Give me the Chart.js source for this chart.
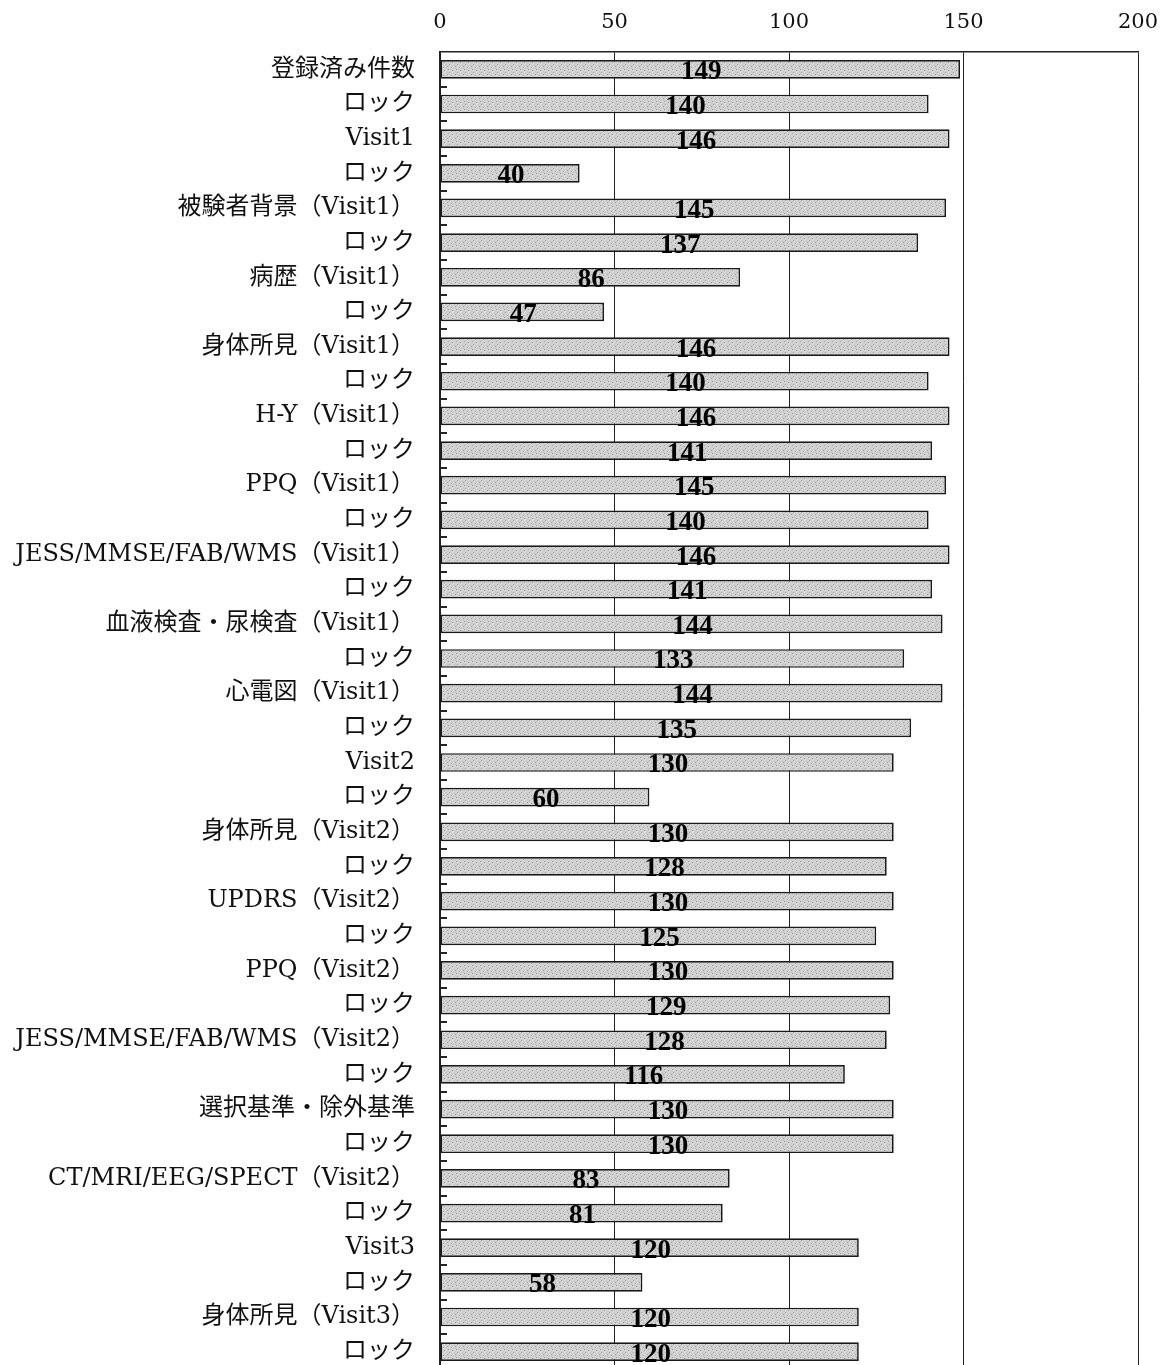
<!DOCTYPE html>
<html>
<head>
<meta charset="utf-8">
<script src="https://cdn.jsdelivr.net/npm/chart.js@4/dist/chart.umd.min.js"></script>
<style>
  html, body { margin: 0; padding: 0; background: #ffffff; overflow: hidden; }
  #wrap { width: 1172px; height: 1400px; }
</style>
</head>
<body>
<div id="wrap"><canvas id="c" width="1172" height="1400"></canvas></div>
<script>
// Items (registered count, then each form with its locked count)
const categories = [
  '登録済み件数', 'ロック',
  'Visit1', 'ロック',
  '被験者背景（Visit1）', 'ロック',
  '病歴（Visit1）', 'ロック',
  '身体所見（Visit1）', 'ロック',
  'H-Y（Visit1）', 'ロック',
  'PPQ（Visit1）', 'ロック',
  'JESS/MMSE/FAB/WMS（Visit1）', 'ロック',
  '血液検査・尿検査（Visit1）', 'ロック',
  '心電図（Visit1）', 'ロック',
  'Visit2', 'ロック',
  '身体所見（Visit2）', 'ロック',
  'UPDRS（Visit2）', 'ロック',
  'PPQ（Visit2）', 'ロック',
  'JESS/MMSE/FAB/WMS（Visit2）', 'ロック',
  '選択基準・除外基準', 'ロック',
  'CT/MRI/EEG/SPECT（Visit2）', 'ロック',
  'Visit3', 'ロック',
  '身体所見（Visit3）', 'ロック'
];

const counts = [
  149, 140,
  146, 40,
  145, 137,
  86, 47,
  146, 140,
  146, 141,
  145, 140,
  146, 141,
  144, 133,
  144, 135,
  130, 60,
  130, 128,
  130, 125,
  130, 129,
  128, 116,
  130, 130,
  83, 81,
  120, 58,
  120, 120
];

const axisMin = 0;
const axisMax = 200;
const axisStep = 50;

const serif = '"DejaVu Serif", "Liberation Serif", "Noto Sans CJK JP", serif';

// Speckled grey fill for the bars (fixed dot layout, 8x8 tile)
function makeSpeckle() {
  const tile = [
    '.#..-...',
    '..-.....',
    '.....-.#',
    '.-.#....',
    '...-....',
    '#.....-.',
    '.-..#...',
    '.....-..'
  ];
  const c = document.createElement('canvas');
  c.width = 8; c.height = 8;
  const g = c.getContext('2d');
  g.fillStyle = '#cecece';
  g.fillRect(0, 0, 8, 8);
  tile.forEach((row, y) => {
    [...row].forEach((ch, x) => {
      if (ch === '#') { g.fillStyle = '#a2a2a2'; g.fillRect(x, y, 1, 1); }
      if (ch === '-') { g.fillStyle = '#e2e2e2'; g.fillRect(x, y, 1, 1); }
    });
  });
  return g.createPattern(c, 'repeat');
}

// Value written in the middle of each bar
const valueLabels = {
  id: 'valueLabels',
  afterDatasetsDraw(chart) {
    const ctx = chart.ctx;
    const meta = chart.getDatasetMeta(0);
    const data = chart.data.datasets[0].data;
    ctx.save();
    ctx.font = 'bold 27px "Liberation Serif", serif';
    ctx.fillStyle = '#000000';
    ctx.textAlign = 'center';
    ctx.textBaseline = 'middle';
    meta.data.forEach((bar, i) => {
      const p = bar.getProps(['x', 'y', 'base'], true);
      ctx.fillText(String(data[i]), (p.x + p.base) / 2 + 1, p.y + 3);
    });
    ctx.restore();
  }
};

// Short inner tick marks on the category axis between rows
const innerTicks = {
  id: 'innerTicks',
  afterDatasetsDraw(chart) {
    const ctx = chart.ctx;
    const y = chart.scales.y;
    const left = chart.chartArea.left;
    const n = chart.data.labels.length;
    ctx.save();
    ctx.strokeStyle = '#222222';
    ctx.lineWidth = 2;
    for (let i = 0; i < n; i++) {
      const yy = Math.round((y.getPixelForValue(i) + y.getPixelForValue(i + 1)) / 2);
      ctx.beginPath();
      ctx.moveTo(left, yy);
      ctx.lineTo(left + 7, yy);
      ctx.stroke();
    }
    ctx.restore();
  }
};

const ctx = document.getElementById('c').getContext('2d');
new Chart(ctx, {
  type: 'bar',
  data: {
    labels: categories,
    datasets: [{
      data: counts,
      backgroundColor: makeSpeckle(),
      borderColor: '#1a1a1a',
      borderWidth: 1.7,
      borderSkipped: false,
      barPercentage: 0.54,
      categoryPercentage: 1.0
    }]
  },
  options: {
    indexAxis: 'y',
    responsive: false,
    animation: false,
    devicePixelRatio: 1,
    layout: { padding: { left: 0, right: 34, top: 0, bottom: 31 } },
    plugins: {
      legend: { display: false },
      tooltip: { enabled: false }
    },
    scales: {
      x: {
        position: 'top',
        min: axisMin,
        max: axisMax,
        ticks: {
          stepSize: axisStep,
          color: '#111111',
          font: { family: serif, size: 21 },
          padding: 17
        },
        grid: { color: '#222222', lineWidth: 1, drawTicks: false },
        border: { display: true, color: '#222222', width: 1.5 },
        afterFit(scale) {
          scale.height = 52;
          scale.paddingLeft = 0;
          scale.paddingRight = 0;
        }
      },
      y: {
        ticks: {
          color: '#111111',
          font: { family: serif, size: 24 },
          padding: 25,
          autoSkip: false
        },
        grid: { display: false, drawTicks: false },
        border: { display: true, color: '#222222', width: 1.5 },
        afterFit(scale) {
          scale.width = 440;
          scale.paddingTop = 0;
          scale.paddingBottom = 0;
        }
      }
    }
  },
  plugins: [valueLabels, innerTicks]
});
</script>
</body>
</html>
